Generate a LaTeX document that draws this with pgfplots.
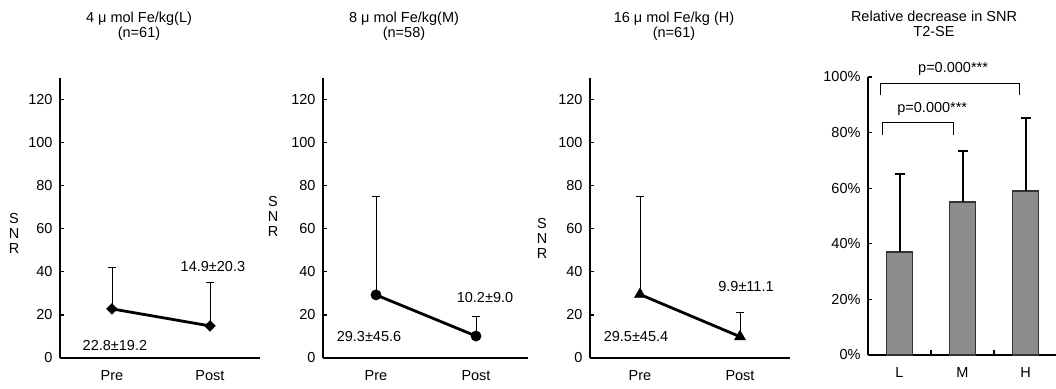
\documentclass[border=0pt]{standalone}
\usepackage{fontspec}
\setmainfont{Liberation Sans}
\usepackage{pgfplots}
\pgfplotsset{compat=1.18}
\newcommand\fs{\fontsize{14.5}{15}\selectfont}
\definecolor{barg}{gray}{0.55}
\pgfplotsset{
  base/.style={
    scale only axis, anchor=south west,
    axis x line=bottom, axis y line=left,
    axis line style={-, line width=1.8pt},
    tick align=inside, major tick length=4pt, minor tick length=5pt,
    y tick style={line width=1.2pt, black},
    minor x tick style={line width=1.2pt, black},
    major x tick style={draw=none},
    tick label style={font=\fs},
    /pgf/number format/assume math mode=true,
    yticklabel style={xshift=-4pt},
    xticklabel style={yshift=-9pt},
    clip=false,
  },
  snr/.style={
    base, height=280pt,
    ymin=0, ymax=130, ytick={0,20,40,60,80,100,120},
    xtick={1,2}, xticklabels={Pre,Post},
  },
  ln/.style={black, line width=2.8pt},
  eb/.style={error bars/.cd, y dir=plus, y explicit,
    error bar style={line width=0.9pt, black},
    error mark options={rotate=90, line width=0.9pt, mark size=4pt, black}},
}
\begin{document}
\begin{tikzpicture}
% Panel 1
\begin{axis}[snr, width=200pt, at={(60pt,30pt)}, xmin=0.47, xmax=2.51]
\addplot[ln, eb] coordinates {(1,22.8) +- (0,19.2) (2,14.9) +- (0,20.3)};
\addplot[only marks, mark=square*, mark size=3.8pt, mark options={rotate=45, fill=black, draw=black}] coordinates {(1,22.8) (2,14.9)};
\node[font=\fs] at (axis cs:1.03,6) {22.8±19.2};
\node[font=\fs] at (axis cs:2.03,42.7) {14.9±20.3};
\end{axis}
% Panel 2
\begin{axis}[snr, width=205pt, at={(323pt,30pt)}, xmin=0.47, xmax=2.52]
\addplot[ln, eb] coordinates {(1,29.3) +- (0,45.6) (2,10.2) +- (0,9.0)};
\addplot[only marks, mark=*, mark size=5.2pt, mark options={fill=black, draw=black}] coordinates {(1,29.3) (2,10.2)};
\node[font=\fs] at (axis cs:0.93,9.75) {29.3±45.6};
\node[font=\fs] at (axis cs:2.09,27.9) {10.2±9.0};
\end{axis}
% Panel 3
\begin{axis}[snr, width=200pt, at={(590pt,30pt)}, xmin=0.5, xmax=2.5]
\addplot[ln, eb] coordinates {(1,29.5) +- (0,45.4) (2,9.9) +- (0,11.1)};
\addplot[only marks, mark=triangle*, mark size=6.5pt, mark options={fill=black, draw=black}] coordinates {(1,29.5) (2,9.9)};
\node[font=\fs] at (axis cs:0.96,9.75) {29.5±45.4};
\node[font=\fs] at (axis cs:2.06,33) {9.9±11.1};
\end{axis}
% Panel 4
\begin{axis}[base, width=188pt, height=278pt, at={(868pt,33pt)},
  ymin=0, ymax=1, ytick={0,0.2,0.4,0.6,0.8,1},
  yticklabels={0\%,20\%,40\%,60\%,80\%,100\%},
  xmin=0.5, xmax=3.484, xtick={1,2,3}, xticklabels={L,M,H},
  minor xtick={1.5,2.5}]
\addplot[ybar, bar width=26pt, fill=barg, draw=black!80, line width=1.8pt,
  error bars/.cd, y dir=plus, y explicit,
  error bar style={line width=2pt, black, solid},
  error mark options={rotate=90, line width=2pt, mark size=5pt, black}]
  coordinates {(1,0.37) +- (0,0.28) (2,0.55) +- (0,0.185) (3,0.59) +- (0,0.263)};
\draw[line width=0.9pt] (axis cs:0.722,0.791) -- (axis cs:0.722,0.838) -- (axis cs:1.85,0.838) -- (axis cs:1.85,0.791);
\draw[line width=0.9pt] (axis cs:0.69,0.935) -- (axis cs:0.69,0.978) -- (axis cs:2.91,0.978) -- (axis cs:2.91,0.935);
\node[font=\fs] at (axis cs:1.52,0.885) {p=0.000***};
\node[font=\fs] at (axis cs:1.85,1.03) {p=0.000***};
\end{axis}
% Titles
\node[font=\fs, align=center] at (139pt,362pt) {4 μ mol Fe/kg(L)\\(n=61)};
\node[font=\fs, align=center] at (404pt,362pt) {8 μ mol Fe/kg(M)\\(n=58)};
\node[font=\fs, align=center] at (674pt,362pt) {16 μ mol Fe/kg (H)\\(n=61)};
\node[font=\fs, align=center] at (934pt,364pt) {Relative decrease in SNR\\T2-SE};
% SNR labels
\node[font=\fs, align=center] at (14pt,155pt) {S\\N\\R};
\node[font=\fs, align=center] at (273pt,172pt) {S\\N\\R};
\node[font=\fs, align=center] at (542pt,150pt) {S\\N\\R};
\pgfresetboundingbox
\useasboundingbox (0,0) rectangle (1056pt,388pt);
\end{tikzpicture}
\end{document}
